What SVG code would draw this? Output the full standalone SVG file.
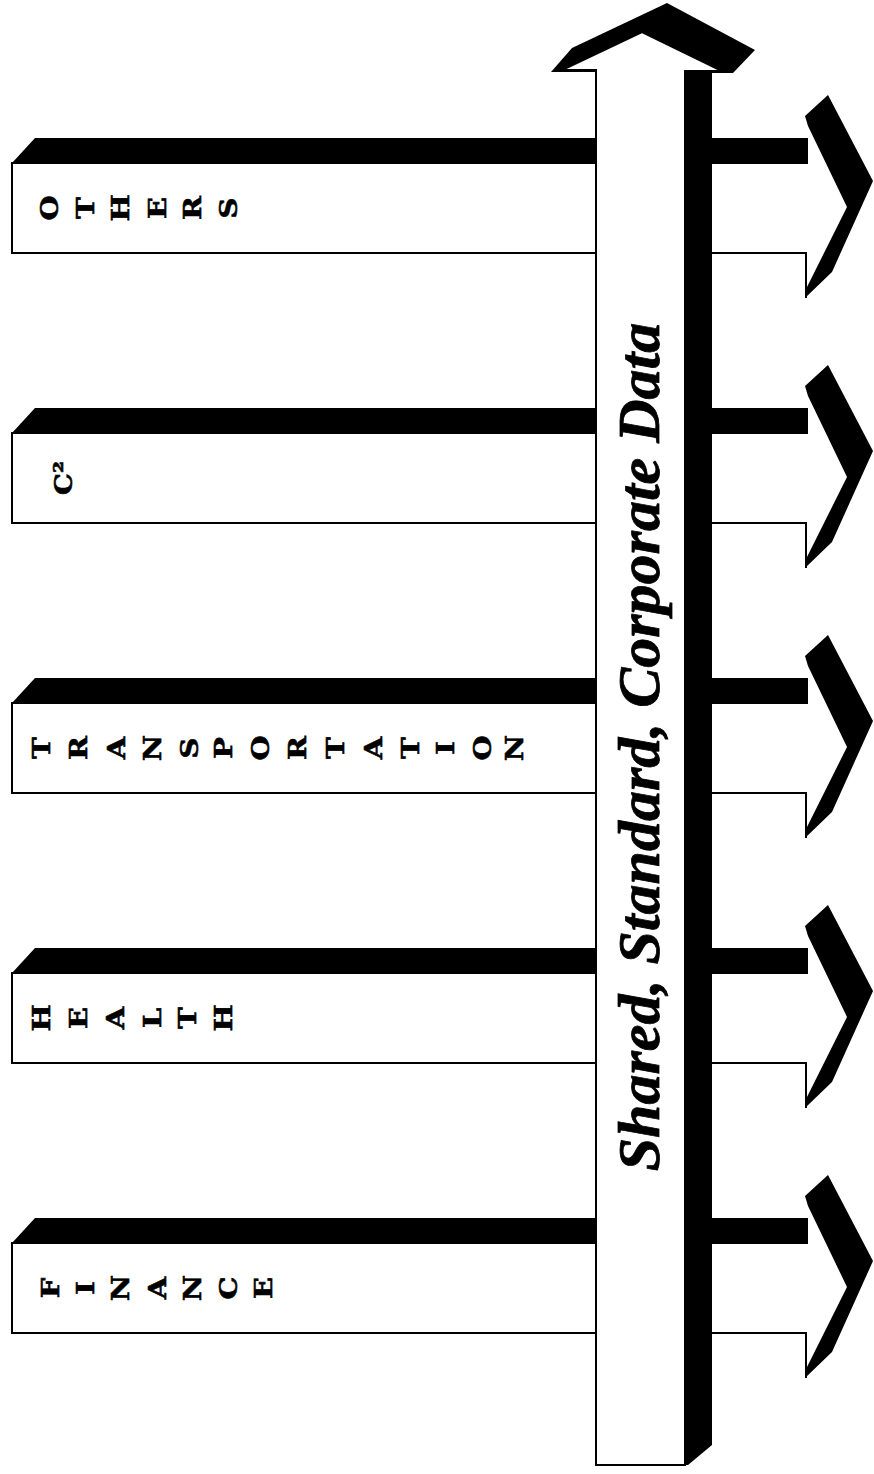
<svg xmlns="http://www.w3.org/2000/svg" width="874" height="1474" viewBox="0 0 874 1474">
<style>
.blk{fill:#000}
.box{fill:#fff;stroke:#000;stroke-width:2}
.ln{fill:none;stroke:#000;stroke-width:2}
.lt{font-family:"DejaVu Serif","Liberation Serif",serif;font-weight:bold;font-size:24px;fill:#000;stroke:#000;stroke-width:0.6}
.c2{font-family:"DejaVu Serif","Liberation Serif",serif;font-weight:bold;font-size:25px;fill:#000;stroke:#000;stroke-width:0.6}
.title{font-family:"Liberation Serif",serif;font-weight:bold;font-style:italic;font-size:60px;fill:#000;stroke:#000;stroke-width:0.8}
</style>
<defs>
<g id="bar">
<polygon class="blk" points="12,25 35,0 600,0 600,25"/>
<rect class="box" x="12" y="25" width="588" height="90"/>
</g>
<g id="out">
<rect class="blk" x="712" y="0" width="96" height="26"/>
<line class="ln" x1="712" y1="115" x2="807" y2="115"/>
<line class="ln" x1="806" y1="115" x2="806" y2="160"/>
<polygon class="blk" points="805,-22 828,-43 873,43 832,134 805,160 807,149 847,69 808,-12"/>
</g>
</defs>
<rect width="874" height="1474" fill="#fff"/>

<g id="node-others">
<use href="#bar" y="138"/>
<g class="lt" text-anchor="middle" dominant-baseline="central">
<text transform="translate(49,208) rotate(-90) scale(1.2,1)">O</text>
<text transform="translate(85,208) rotate(-90) scale(1.2,1)">T</text>
<text transform="translate(120,208) rotate(-90) scale(1.2,1)">H</text>
<text transform="translate(157,208) rotate(-90) scale(1.2,1)">E</text>
<text transform="translate(192,208) rotate(-90) scale(1.2,1)">R</text>
<text transform="translate(228,208) rotate(-90) scale(1.2,1)">S</text>
</g>
</g>

<g id="node-c2">
<use href="#bar" y="408"/>
<text class="c2" transform="translate(63,478) rotate(-90) scale(1.1,1)" text-anchor="middle" dominant-baseline="central">C²</text>
</g>

<g id="node-transportation">
<use href="#bar" y="678"/>
<g class="lt" text-anchor="middle" dominant-baseline="central">
<text transform="translate(41,748) rotate(-90) scale(1.2,1)">T</text>
<text transform="translate(78,748) rotate(-90) scale(1.2,1)">R</text>
<text transform="translate(116,748) rotate(-90) scale(1.2,1)">A</text>
<text transform="translate(152,748) rotate(-90) scale(1.2,1)">N</text>
<text transform="translate(189,748) rotate(-90) scale(1.2,1)">S</text>
<text transform="translate(223,748) rotate(-90) scale(1.2,1)">P</text>
<text transform="translate(260,748) rotate(-90) scale(1.2,1)">O</text>
<text transform="translate(297,748) rotate(-90) scale(1.2,1)">R</text>
<text transform="translate(335,748) rotate(-90) scale(1.2,1)">T</text>
<text transform="translate(373,748) rotate(-90) scale(1.2,1)">A</text>
<text transform="translate(410,748) rotate(-90) scale(1.2,1)">T</text>
<text transform="translate(445,748) rotate(-90) scale(1.2,1)">I</text>
<text transform="translate(482,748) rotate(-90) scale(1.2,1)">O</text>
<text transform="translate(514,748) rotate(-90) scale(1.2,1)">N</text>
</g>
</g>

<g id="node-health">
<use href="#bar" y="948"/>
<g class="lt" text-anchor="middle" dominant-baseline="central">
<text transform="translate(41,1018) rotate(-90) scale(1.2,1)">H</text>
<text transform="translate(78,1018) rotate(-90) scale(1.2,1)">E</text>
<text transform="translate(115,1018) rotate(-90) scale(1.2,1)">A</text>
<text transform="translate(152,1018) rotate(-90) scale(1.2,1)">L</text>
<text transform="translate(187,1018) rotate(-90) scale(1.2,1)">T</text>
<text transform="translate(223,1018) rotate(-90) scale(1.2,1)">H</text>
</g>
</g>

<g id="node-finance">
<use href="#bar" y="1218"/>
<g class="lt" text-anchor="middle" dominant-baseline="central">
<text transform="translate(50,1288) rotate(-90) scale(1.2,1)">F</text>
<text transform="translate(85,1288) rotate(-90) scale(1.2,1)">I</text>
<text transform="translate(120,1288) rotate(-90) scale(1.2,1)">N</text>
<text transform="translate(157,1288) rotate(-90) scale(1.2,1)">A</text>
<text transform="translate(192,1288) rotate(-90) scale(1.2,1)">N</text>
<text transform="translate(228,1288) rotate(-90) scale(1.2,1)">C</text>
<text transform="translate(263,1288) rotate(-90) scale(1.2,1)">E</text>
</g>
</g>

<g id="connectors">
<use href="#out" y="138"/>
<use href="#out" y="408"/>
<use href="#out" y="678"/>
<use href="#out" y="948"/>
<use href="#out" y="1218"/>
</g>

<g id="node-shared-data">
<polygon class="blk" points="551,72 572,48 667,3 755,50 733,73 712,73 712,1445 688,1465 685,1465 685,72"/>
<polygon class="box" points="562,70 642,32 722,71 685,71 685,1465 596,1465 596,70"/>
<text class="title" transform="translate(659,747) rotate(-90)" text-anchor="middle">Shared, Standard, Corporate Data</text>
</g>
</svg>
